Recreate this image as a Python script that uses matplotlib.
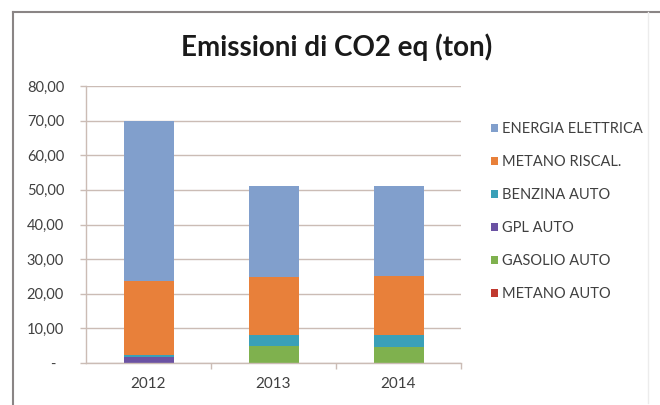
"""
Stacked bar chart of CO2 equivalent emissions by source, 2012-2014
"""
import matplotlib
import matplotlib.pyplot as plt
from matplotlib.lines import Line2D
from matplotlib.ticker import FuncFormatter, FixedLocator

matplotlib.use("Agg")

# Data (ton CO2 eq)
years = ["2012", "2013", "2014"]
series_names = [
    "METANO AUTO",
    "GASOLIO AUTO",
    "GPL AUTO",
    "BENZINA AUTO",
    "METANO RISCAL.",
    "ENERGIA ELETTRICA",
]
metano_auto = [0.0, 0.0, 0.0]
gasolio_auto = [0.0, 4.9, 4.7]
gpl_auto = [1.7, 0.0, 0.0]
benzina_auto = [0.6, 3.2, 3.4]
metano_riscal = [21.5, 16.8, 17.1]
energia_elettrica = [46.2, 26.3, 26.0]

colors = ["#c0392f", "#7fb14e", "#6b52a3", "#3aa0b8", "#e8803a", "#819fcc"]


def y_label(value, _pos):
    if abs(value) < 1e-9:
        return "-  "
    return f"{value:.2f}".replace(".", ",")


def main():
    plt.rcParams["font.family"] = ["Lato", "DejaVu Sans"]

    fig = plt.figure(figsize=(6.6, 4.05), dpi=100)
    ax = fig.add_axes([86 / 660, 42 / 405, 375 / 660, 277 / 405])

    values = [
        metano_auto,
        gasolio_auto,
        gpl_auto,
        benzina_auto,
        metano_riscal,
        energia_elettrica,
    ]
    x = list(range(len(years)))
    bottom = [0.0] * len(years)
    for name, vals, col in zip(series_names, values, colors):
        ax.bar(x, vals, width=0.4, bottom=bottom, color=col, label=name)
        bottom = [b + v for b, v in zip(bottom, vals)]

    ax.set_xlim(-0.5, len(years) - 0.5)
    ax.set_ylim(0, 80)
    ax.set_yticks(range(0, 81, 10))
    ax.yaxis.set_major_formatter(FuncFormatter(y_label))
    ax.set_xticks(x)
    ax.set_xticklabels(years)
    ax.xaxis.set_minor_locator(FixedLocator([0.5, 1.5, 2.5]))

    grid_col = "#cbbcb5"
    ax.grid(axis="y", color=grid_col, linewidth=1.0)
    ax.set_axisbelow(True)
    for side in ["top", "right"]:
        ax.spines[side].set_visible(False)
    for side in ["left", "bottom"]:
        ax.spines[side].set_color(grid_col)
        ax.spines[side].set_linewidth(1.0)

    ax.tick_params(axis="y", length=4.3, width=1.0, color=grid_col,
                   labelsize=10.5, labelcolor="#404040", pad=11.5)
    ax.tick_params(axis="x", which="major", length=0, labelsize=11,
                   labelcolor="#404040", pad=10)
    ax.tick_params(axis="x", which="minor", length=4, width=1.0, color=grid_col)

    handles, labels = ax.get_legend_handles_labels()
    leg = ax.legend(
        handles[::-1],
        labels[::-1],
        loc="upper left",
        bbox_to_anchor=(485 / 660, 1 - 116 / 405),
        bbox_transform=fig.transFigure,
        frameon=False,
        fontsize=10.5,
        handlelength=0.5,
        handleheight=0.5,
        handletextpad=0.3,
        labelspacing=1.31,
        borderaxespad=0,
    )
    for txt in leg.get_texts():
        txt.set_color("#404040")

    fig.text(337 / 660, 1 - 47 / 405, "Emissioni di CO2 eq (ton)",
             ha="center", va="center", fontsize=20, fontweight="bold",
             color="#1a1a1a")

    # Frame of the chart area
    fig.add_artist(Line2D([13 / 660, 13 / 660], [0, 1 - 12 / 405],
                          color="#8a8585", linewidth=1.5))
    fig.add_artist(Line2D([13 / 660, 1], [1 - 12 / 405, 1 - 12 / 405],
                          color="#8a8585", linewidth=1.5))
    fig.add_artist(Line2D([648 / 660, 648 / 660], [2 / 405, 1 - 12 / 405],
                          color="#ececec", linewidth=1.0))

    fig.savefig("out.png", dpi=100)


if __name__ == "__main__":
    main()
